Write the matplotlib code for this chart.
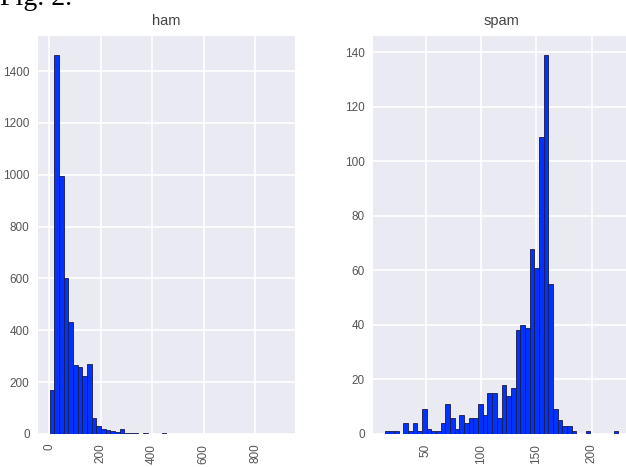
import numpy as np
import matplotlib
matplotlib.use("Agg")
import matplotlib.pyplot as plt

# ---- data (bin counts, 50 bins each) ----
ham_min, ham_max = 2, 910
ham_counts = [170, 1462, 996, 600, 433, 266, 257, 225, 270, 60,
              30, 18, 17, 12, 8, 18, 5, 4, 4, 1,
              3, 1, 1, 1, 2, 0, 0, 0, 0, 0,
              0, 0, 0, 0, 0, 0, 0, 0, 0, 0,
              0, 0, 0, 0, 0, 0, 0, 0, 0, 1]
spam_min, spam_max = 13, 224
spam_counts = [1, 1, 1, 0, 4, 1, 4, 1, 9, 2,
               1, 1, 4, 11, 6, 2, 7, 4, 6, 6,
               11, 7, 15, 15, 6, 18, 14, 17, 38, 40,
               39, 68, 61, 109, 139, 55, 9, 5, 3, 3,
               1, 0, 0, 1, 0, 0, 0, 0, 0, 1]
titles = ["ham", "spam"]
ham_xticks = [0, 200, 400, 600, 800]
ham_yticks = [0, 200, 400, 600, 800, 1000, 1200, 1400]
spam_xticks = [50, 100, 150, 200]
spam_yticks = [0, 20, 40, 60, 80, 100, 120, 140]

plt.rcParams['font.family'] = ['Liberation Sans', 'DejaVu Sans']

W, H = 626, 467
fig = plt.figure(figsize=(W / 100, H / 100), dpi=100)
fig.patch.set_facecolor("white")

def px_axes(l, t, r, b):
    return fig.add_axes([l / W, (H - b) / H, (r - l) / W, (b - t) / H])

ax1 = px_axes(38, 36, 295, 434)
ax2 = px_axes(373, 36, 630, 434)

tick_color = "#555555"
for ax, counts, lo, hi, title, xt, yt in [
        (ax1, ham_counts, ham_min, ham_max, titles[0], ham_xticks, ham_yticks),
        (ax2, spam_counts, spam_min, spam_max, titles[1], spam_xticks, spam_yticks)]:
    edges = np.linspace(lo, hi, len(counts) + 1)
    centers = (edges[:-1] + edges[1:]) / 2
    ax.set_facecolor("#EAEAF2")
    ax.hist(centers, bins=edges, weights=counts, color="#0033FF",
            edgecolor="#1a1a4a", linewidth=0.6, zorder=2)
    ax.grid(True, color="white", linewidth=1.2, zorder=0)
    ax.set_axisbelow(True)
    for s in ax.spines.values():
        s.set_visible(False)
    ax.set_xticks(xt)
    ax.set_yticks(yt)
    ax.tick_params(axis='x', labelrotation=90, length=0, labelsize=8.5,
                   colors=tick_color, pad=7)
    ax.tick_params(axis='y', length=0, labelsize=8.5, colors=tick_color, pad=6)
    ax.set_title(title, fontsize=10.5, color="#444444", pad=8)
    ax.set_ylim(0, max(counts) * 1.05)

fig.text(0.0, 1 - 5 / H, "Fig. 2.", fontsize=20, family="Liberation Serif",
         va="baseline", ha="left", color="black")

fig.savefig("out.png", dpi=100)
